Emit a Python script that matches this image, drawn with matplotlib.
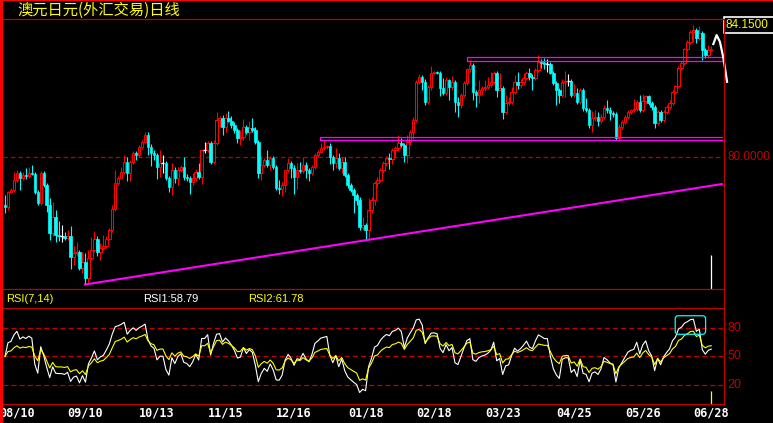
import numpy as np
import matplotlib
matplotlib.use('Agg')
import matplotlib.pyplot as plt
from matplotlib.patches import Rectangle, FancyBboxPatch
import matplotlib.transforms as mtransforms

# daily closes, AUD/JPY (open taken as previous close)
first_open = 78.50
closes = [
    78.44, 78.91, 78.97, 79.28, 79.50, 79.34, 79.44, 79.41, 79.50, 79.47,
    78.91, 78.56, 79.50, 79.13, 78.50, 77.63, 78.13, 77.56, 77.53, 77.53,
    77.47, 77.53, 76.88, 77.00, 77.03, 76.53, 76.72, 76.22, 76.84, 77.09,
    77.44, 77.03, 77.16, 77.22, 77.44, 77.72, 78.38, 79.19, 79.34, 79.53,
    79.84, 79.50, 79.84, 80.13, 80.06, 80.31, 80.47, 80.69, 80.31,
    80.13, 80.06, 79.69, 79.81, 79.81, 79.34, 79.06, 79.59, 79.34, 79.59,
    79.69, 79.38, 79.34, 79.22, 79.34, 79.53, 79.38, 80.22, 80.22, 80.44,
    79.84, 80.44, 81.16, 81.22, 80.94, 81.22, 81.13, 81.00, 80.84, 80.59,
    80.62, 80.94, 80.78, 80.91, 80.84, 80.47, 79.50, 79.75, 79.91, 79.75,
    79.97, 79.69, 79.03, 79.00, 79.13, 79.59, 79.81, 79.66,
    79.38, 79.59, 79.56, 79.75, 79.59, 79.50, 79.69, 80.06, 80.16, 80.28,
    80.31, 80.34, 80.00, 79.81, 79.97, 79.66, 79.84, 79.44, 79.13, 78.97,
    78.81, 78.66, 77.81, 77.88, 77.72, 78.34, 78.66, 79.19, 79.28, 79.59,
    79.81, 79.97, 79.94, 80.22, 80.28, 80.44, 80.38, 80.06, 80.47, 80.78,
    81.16, 82.34, 82.50, 82.34, 81.72, 82.19, 82.63, 82.66, 82.63, 82.16,
    82.00, 82.41, 82.19, 82.34, 81.72, 81.63, 81.94, 82.31, 82.75, 82.88,
    82.03, 81.94, 82.09, 82.16, 82.19, 82.25, 82.34, 82.63, 82.09, 82.16,
    81.41, 81.69, 81.72, 82.03, 82.34, 82.25, 82.34, 82.47, 82.63, 82.50,
    82.47, 82.72, 82.97, 82.94, 82.91, 82.91, 82.63, 82.31, 82.09, 81.94,
    82.34, 82.38, 82.38, 81.94, 82.00, 81.72, 82.09, 81.53, 81.47, 81.00,
    81.22, 81.25, 81.13,
    81.25, 81.53, 81.47, 81.38, 81.34, 80.59, 80.94, 81.09, 81.25, 81.41,
    81.47, 81.50, 81.72, 81.47, 81.75, 81.91, 81.69, 81.56, 81.06, 81.41,
    81.16, 81.41, 81.56, 81.69, 82.03, 82.22, 82.78, 82.94, 83.38, 83.59,
    83.91, 83.97, 83.72, 83.88, 83.34, 83.19, 83.34, 83.38,
]
upper_wick = [
    .31, .03, .06, .25, .09, .06, .09, .22, .19, .25, .06, .06, .06, .06, .06, .22, .47, .22, .44, .34,
    .12, .19, .31, .22, .31, .06, .31, .28, .25, .41, .25, .09, .16, .34, .09, .06, .12, .41, .06, .16,
    .22, .16, .06, .06, .06, .06, .06, .09, .09,
    .09, .09, .06, .41, .25, .06, .06, .22, .09, .09, .06, .31, .09, .06, .16, .09, .28, 0, .25, .06,
    .06, .09, .25, .06, .09, .16, .22, .16, .09, .06, .22, .25, .06, .22, .31, .09, .06, .25, .06, .31,
    .06, .06, .06, .25, .09, 0, .16, .06,
    .09, .22, .25, .25, .09, .06, .06, .06, .06, .16, .22, .03, .09, .06, .31, .16, .16, .16, .06, .06,
    .06, .06, .09, .25, .06, .38, .09, .06, .09, .06, .06, .06, .16, .06, .06, .25, .16, .06, .22, .06,
    .09, .06, .09, .06, .09, .06, .22, .03, .03, .06, .31, .09, .03, .19, .06, .16, .06, .06, .03, .16,
    .06, .06, .31, .06, .22, .25, .31, .06, .06, .47, .06, .25, .16, .16, .22, .31, .09, .16, .06, .16,
    .09, .06, .22, .09, .16, .16, .06, .06, .06, .06, .09, .31, .22, .06, .28, .16, .06, .06, .31, .06,
    .22, .22, .16,
    .09, .09, .25, .09, .06, .06, .09, .06, .06, .06, .03, .31, .06, .22, .22, .03, .03, .06, .06, .06,
    .06, .06, .06, .09, .06, .03, .06, .06, .03, .06, .06, .16, .06, .22, .06, .06, .16, .09,
]
lower_wick = [
    .19, .09, .03, .06, .06, .38, .06, .09, .06, .03, .06, .06, .06, .06, .22, .22, .09, .22, .16, .19,
    .06, .06, .38, .25, .09, .06, .16, .19, .16, .06, .06, .12, .25, .06, .06, .03, .06, .06, .06, .03,
    .06, .25, .25, .06, .16, .06, .06, .03, .25,
    .41, .16, .38, .31, .31, .06, .16, .25, .16, .22, .06, .09, .09, .38, .09, .09, .06, .22, .09, .06,
    .06, .06, .06, .22, .25, .16, .03, .09, .09, .16, .22, .09, .06, .25, .06, .06, .16, .22, .06, .06,
    .16, .06, .06, .16, .22, .22, .06, .31,
    .53, .38, .06, .06, .25, .25, .06, .06, .06, .03, .06, .06, .22, .22, .16, .06, .16, .06, .09, .06,
    .56, .16, .09, .09, .31, .31, .09, .16, .16, .06, .09, .09, .31, .16, .22, .09, .06, .22, .25, .09,
    .22, .06, .06, .25, .09, .06, .09, .03, .03, .25, .06, .06, .41, .09, .31, .38, .09, .06, .06, .09,
    .25, .38, .25, .16, .09, .06, .06, .06, .22, 0, .22, .06, .06, .06, .06, .12, .09, .09, .06, .09,
    .38, .06, .06, .16, .16, .25, .03, .06, .47, .25, .06, .47, .16, .06, .06, .06, .06, .09, .06, .09,
    .22, .09, .16,
    .06, .06, .09, .22, .09, .06, .09, .06, .06, .06, .06, .06, .06, .06, .06, .06, .06, .09, .16, .06,
    .06, .06, .06, .06, .06, .06, .06, .06, .06, .06, .06, .31, .16, .06, .31, .09, .06, .06,
]

tick_pos = [4, 27, 51, 74, 97, 121, 144, 167, 191, 214, 237]
tick_labels = ['08/10', '09/10', '10/13', '11/15', '12/16', '01/18',
               '02/18', '03/23', '04/25', '05/26', '06/28']

title = '澳元日元(外汇交易)日线'
price_label = '84.1500'
level_80 = 80.0
rsi_levels = [20, 50, 80]
rsi_title = 'RSI(7,14)'
rsi1_text = 'RSI1:58.79'
rsi2_text = 'RSI2:61.78'

# hand drawn lines on the chart
trend_x = [26.5, 240.9]
trend_y = [76.01, 79.16]
box_hi = (155.0, 82.99, 83.12)
box_lo = (105.7, 80.52, 80.62)
hook_x = [237.7, 238.8, 239.9, 241.0, 241.6, 242.3]
hook_y = [83.53, 83.81, 83.60, 83.13, 82.78, 82.35]
rsi_box = (224.9, 235.1, 73.4, 92.9)

RED = '#ff0000'
DARK = '#c00000'
CYAN = '#00ffff'
MAG = '#ff00ff'
YEL = '#ffff00'
CJK = ['Noto Sans CJK SC', 'DejaVu Sans']


def rsi(c, n):
    c = np.asarray(c)
    d = np.diff(c, prepend=c[0])
    up = np.maximum(d, 0)
    ab = np.abs(d)
    su = np.zeros(len(c))
    sa = np.zeros(len(c))
    # start from a neutral reading, no history before the first bar
    sa[0] = ab[1:n + 1].mean()
    su[0] = sa[0] / 2
    for t in range(1, len(c)):
        su[t] = (up[t] + (n - 1) * su[t - 1]) / n
        sa[t] = (ab[t] + (n - 1) * sa[t - 1]) / n
    return 100 * su / sa


W, H = 773, 423
fig = plt.figure(figsize=(W / 100, H / 100), dpi=100, facecolor='black')


def box(l, t, r, b):
    return [l / W, 1 - b / H, (r - l) / W, (b - t) / H]


xlim = (-0.67, 240.94)
ax = fig.add_axes(box(3, 19, 723, 289))
ax.set_facecolor('black')
ax.set_xlim(*xlim)
ax.set_ylim(75.875, 84.3125)
ax.axis('off')

rax = fig.add_axes(box(3, 308, 723, 404))
rax.set_facecolor('black')
rax.set_xlim(*xlim)
rax.set_ylim(0, 101.05)
rax.axis('off')

closes = np.array(closes)
opens = np.concatenate([[first_open], closes[:-1]])
x = np.arange(len(closes))
highs = np.maximum(opens, closes) + np.array(upper_wick)
lows = np.minimum(opens, closes) - np.array(lower_wick)

up = closes > opens
dn = closes < opens
dj = closes == opens
cols = np.where(up, RED, np.where(dn, CYAN, '#ffffff'))

ax.axhline(level_80, color=DARK, lw=0.9, ls=(0, (3.5, 2.5)), zorder=1)
ax.text(1.006, level_80, '80.0000', transform=ax.get_yaxis_transform(),
        color=DARK, fontsize=8.5, family='Liberation Sans', va='center', ha='left', clip_on=False)

ax.vlines(x, lows, highs, colors=cols, lw=0.8, zorder=2)
bw = 0.82
ax.bar(x[up], closes[up] - opens[up], bottom=opens[up], width=bw,
       facecolor='black', edgecolor=RED, lw=0.75, zorder=3)
ax.bar(x[dn], closes[dn] - opens[dn], bottom=opens[dn], width=bw,
       facecolor=CYAN, edgecolor=CYAN, lw=0.5, zorder=3)
ax.hlines(closes[dj], x[dj] - 0.5, x[dj] + 0.5, colors='#ffffff', lw=1, zorder=3)

# drawn objects
ax.plot(trend_x, trend_y, color=MAG, lw=1.5, zorder=4, solid_capstyle='butt')
for x0, y0, y1 in (box_hi, box_lo):
    ax.add_patch(Rectangle((x0, y0), 200, y1 - y0, fill=False, edgecolor=MAG, lw=0.9, zorder=4))
ax.plot(hook_x, hook_y, color='white', lw=1.6, zorder=5, clip_on=False)
ax.vlines(x[-1], 75.875, 76.94, colors='white', lw=0.9, zorder=5)

# RSI panel
r7 = rsi(closes, 7)
r14 = rsi(closes, 14)
for lv in rsi_levels:
    rax.axhline(lv, color=DARK, lw=0.9, ls=(0, (4, 2.5)), zorder=1)
    rax.text(1.006, lv, str(lv), transform=rax.get_yaxis_transform(), color=DARK,
             fontsize=9, family='Liberation Sans', va='center', ha='left', clip_on=False)
rax.plot(x, r7, color='white', lw=0.8, zorder=3)
rax.plot(x, r14, color=YEL, lw=0.8, zorder=3)
bx0, bx1, by0, by1 = rsi_box
rax.add_patch(FancyBboxPatch((bx0, by0), bx1 - bx0, by1 - by0,
                             boxstyle='round,pad=0,rounding_size=1.0', mutation_aspect=3.2,
                             fill=False, edgecolor=CYAN, lw=0.9, zorder=4))
rax.vlines(x[-1], 0, 13.7, colors=YEL, lw=0.9, zorder=5)

trans = mtransforms.blended_transform_factory(rax.transData, rax.transAxes)
for p, lab in zip(tick_pos, tick_labels):
    rax.text(p, -0.094, lab, transform=trans, color='white', fontsize=8.5,
             family='DejaVu Sans Mono', weight='bold', ha='center', va='center', clip_on=False)

# frame and labels in pixel space
ov = fig.add_axes([0, 0, 1, 1], zorder=10)
ov.set_xlim(0, W)
ov.set_ylim(H, 0)
ov.axis('off')
ov.patch.set_alpha(0)
ov.add_patch(Rectangle((0, 0), 3.2, H, color=RED, lw=0))
ov.add_patch(Rectangle((0, 0), W, 1.2, color=RED, lw=0))
for yy in (19.5, 289.5, 308.5, 404.5):
    ov.plot([3, 723], [yy, yy], color=DARK, lw=0.9)
ov.plot([723.5, 723.5], [19, 405], color=DARK, lw=0.9)
ov.add_patch(Rectangle((723.5, 17), 60, 16.5, facecolor='black', edgecolor='white', lw=1.2))
ov.text(747, 25.5, price_label, color=YEL, fontsize=8.5, family='Liberation Sans', ha='center', va='center')
ov.text(17, 10, title, color=YEL, fontsize=11, family=CJK, ha='left', va='center')
ov.text(6, 298.5, rsi_title, color=YEL, fontsize=8, family='Liberation Sans', ha='left', va='center')
ov.text(143, 298.5, rsi1_text, color='white', fontsize=8, family='Liberation Sans', ha='left', va='center')
ov.text(248, 298.5, rsi2_text, color=YEL, fontsize=8, family='Liberation Sans', ha='left', va='center')

fig.savefig('out.png', dpi=100, facecolor='black')
